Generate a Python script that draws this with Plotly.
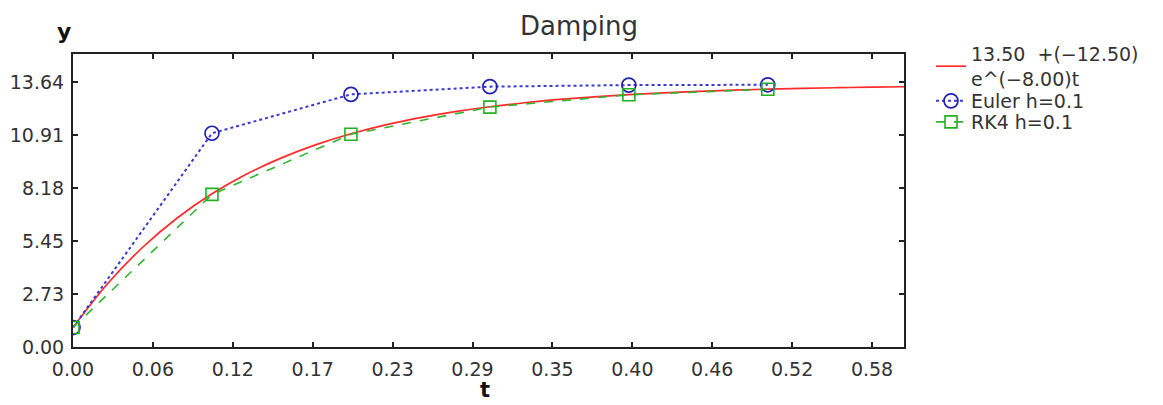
import plotly.graph_objects as go

# Exact solution curve
t_exact = [0.0, 0.025, 0.05, 0.075, 0.1, 0.125, 0.15, 0.175, 0.2, 0.225, 0.25, 0.275,
           0.3, 0.325, 0.35, 0.375, 0.4, 0.425, 0.45, 0.475, 0.5, 0.525, 0.55, 0.575, 0.598]
y_exact = [1.000, 3.266, 5.121, 6.640, 7.883, 8.902, 9.735, 10.418, 10.976, 11.434, 11.808, 12.115,
           12.366, 12.572, 12.740, 12.878, 12.990, 13.083, 13.158, 13.220, 13.271, 13.313, 13.346, 13.374, 13.395]

# Euler h=0.1
t_euler = [0.0, 0.1, 0.2, 0.3, 0.4, 0.5]
y_euler = [1.0, 11.0, 13.0, 13.4, 13.48, 13.496]

# RK4 h=0.1
t_rk4 = [0.0, 0.1, 0.2, 0.3, 0.4, 0.5]
y_rk4 = [1.0, 7.853, 10.949, 12.348, 12.980, 13.265]

x_tick_vals = [0.0, 0.0575, 0.115, 0.1725, 0.23, 0.2875, 0.345, 0.4025, 0.46, 0.5175, 0.575]
x_tick_text = ["0.00", "0.06", "0.12", "0.17", "0.23", "0.29", "0.35", "0.40", "0.46", "0.52", "0.58"]
y_tick_vals = [0.0, 2.7273, 5.4545, 8.1818, 10.9091, 13.6364]
y_tick_text = ["0.00", "2.73", "5.45", "8.18", "10.91", "13.64"]

FONT = "DejaVu Sans"
OFF = 8  # default page body margin
W, H = 1163 - OFF, 405 - OFF
# plot area in window pixels: left 73, right 904, top 54, bottom 347
L, T = 73 - OFF, 54 - OFF
R = W - (904 - OFF)
B = H - (347 - OFF)
PW, PH = W - L - R, H - T - B


def cx(px):
    return (px - OFF) / W


def cy(py):
    return 1 - (py - OFF) / H


fig = go.Figure()
fig.add_trace(go.Scatter(
    x=t_exact, y=y_exact, mode="lines", line_shape="spline",
    name="13.50  +(−12.50)<br>e^(−8.00)t", legend="legend",
    line=dict(color="#ff2a2a", width=1.7),
))
fig.add_trace(go.Scatter(
    x=t_euler, y=y_euler, mode="lines+markers", name="Euler h=0.1", legend="legend2",
    line=dict(color="#3a3ad0", width=2, dash="dot"),
    marker=dict(symbol="circle-open", size=14, color="#2020b0", line=dict(width=1.7)),
))
fig.add_trace(go.Scatter(
    x=t_rk4, y=y_rk4, mode="lines+markers", name="RK4 h=0.1", legend="legend3",
    line=dict(color="#2fb52f", width=1.6, dash="dash"),
    marker=dict(symbol="square-open", size=12, color="#22b022", line=dict(width=1.6)),
))

axis_common = dict(
    showline=True, linecolor="#222222", linewidth=2, mirror="ticks",
    ticks="inside", ticklen=5, tickwidth=1.5, tickcolor="#222222",
    showgrid=False, zeroline=False, automargin=False,
    tickfont=dict(family=FONT, size=19, color="#333333"),
)


def leg(top):
    return dict(x=cx(931), xref="container", y=cy(top), yref="container",
                xanchor="left", yanchor="top", bgcolor="rgba(0,0,0,0)",
                font=dict(family=FONT, size=19, color="#333333"),
                itemwidth=30)


fig.update_layout(
    width=W, height=H,
    margin=dict(l=L, r=R, t=T, b=B, autoexpand=False),
    paper_bgcolor="white", plot_bgcolor="white",
    title=dict(text="Damping", x=cx(579), xref="container", y=cy(26), yref="container",
               xanchor="center", yanchor="middle",
               font=dict(family=FONT, size=26, color="#333333")),
    xaxis=dict(range=[0, 0.598], tickmode="array", tickvals=x_tick_vals, ticktext=x_tick_text,
               ticklabelstandoff=4, **axis_common),
    yaxis=dict(range=[0, 15.08], tickmode="array", tickvals=y_tick_vals, ticktext=y_tick_text,
               ticklabelstandoff=3, **axis_common),
    legend=leg(35),
    legend2=leg(82),
    legend3=leg(103),
    showlegend=True,
    annotations=[
        dict(text="<b>y</b>", x=(64 - 73) / PW, y=1 + (54 - 32) / PH, xref="paper", yref="paper",
             xanchor="center", yanchor="middle",
             showarrow=False, font=dict(family=FONT, size=22, color="#111111")),
        dict(text="<b>t</b>", x=(485 - 73) / PW, y=-(390 - 347) / PH, xref="paper", yref="paper",
             xanchor="center", yanchor="middle",
             showarrow=False, font=dict(family=FONT, size=21, color="#111111")),
    ],
)

fig.write_html("out.html")
